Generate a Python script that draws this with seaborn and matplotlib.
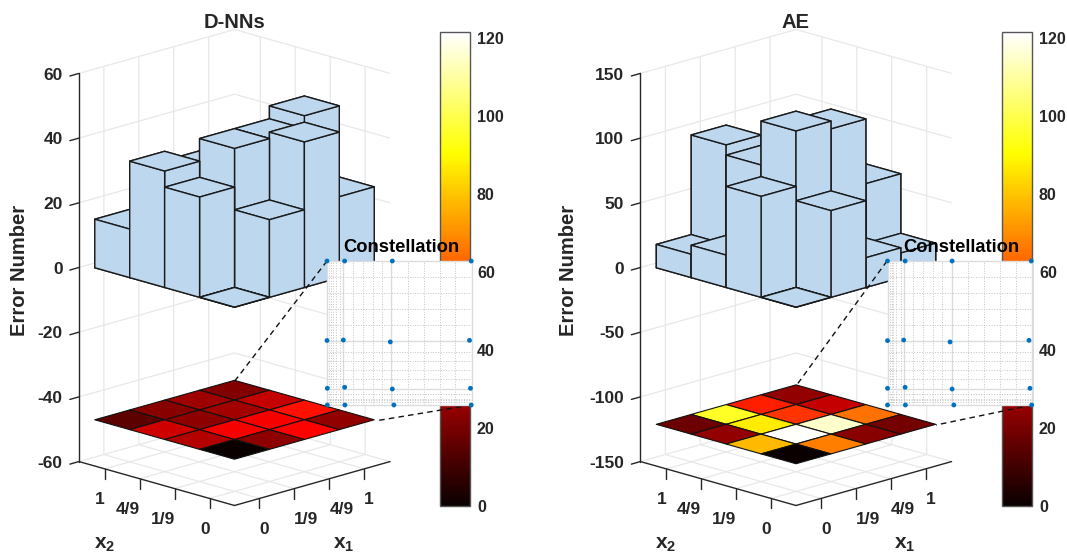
import matplotlib
matplotlib.use("Agg")
import matplotlib.pyplot as plt
from matplotlib.cm import ScalarMappable
from matplotlib.colors import Normalize
from matplotlib.lines import Line2D
from mpl_toolkits.mplot3d import proj3d
import numpy as np
import seaborn as sns

# error counts, rows = x1 index, columns = x2 index
dnn_errors = [[0, 31, 36, 15],
              [24, 43, 24, 23],
              [45, 43, 28, 27],
              [25, 47, 34, 22]]
ae_errors = [[0, 78, 25, 18],
             [67, 121, 87, 95],
             [23, 115, 54, 50],
             [19, 65, 34, 25]]
tick_labels = ["0", "1/9", "4/9", "1"]
dnn_zticks = [-60, -40, -20, 0, 20, 40, 60]
ae_zticks = [-150, -100, -50, 0, 50, 100, 150]
cbar_ticks = [0, 20, 40, 60, 80, 100, 120]

# constellation points
dnn_const_x = [0, .122, .452, .998, 0, .113, .438, .986, .002, .122, .452, .993, .002, .124, .463, .998]
dnn_const_y = [1, 1, 1, 1, .448, .451, .438, .449, .116, .123, .111, .116, 0, 0, 0, 0]
ae_const_x = [0, .122, .447, .995, 0, .112, .433, .979, 0, .122, .447, .986, 0, .124, .459, .998]
ae_const_y = [1, 1, 1, 1, .447, .451, .438, .449, .116, .123, .111, .116, 0, 0, 0, 0]
grid_major = [1 / 9, 4 / 9]
grid_minor_x = [.014, .028, .041, .06, .09, .177, .247, .318, .378, .558, .668, .779, .889]
grid_minor_y = [.019, .032, .044, .079, .183, .241, .306, .37, .556, .667, .778, .889]

sns.set_theme(style="white")
plt.rcParams["font.family"] = ["Liberation Sans", "DejaVu Sans"]
plt.rcParams["font.weight"] = "bold"
plt.rcParams["mathtext.fontset"] = "custom"
plt.rcParams["mathtext.bf"] = "Liberation Sans:bold"

W, H = 1067, 556
DARK = "#262626"
BAR = "#BDD7EE"
hot = sns.color_palette("hot", as_cmap=True)
norm = Normalize(0, 121.5)

fig = plt.figure(figsize=(W / 100, H / 100), dpi=100)


def fx(px):
    return px / W


def fy(py):
    return 1 - py / H


def panel(cx, errors, zticks, heat_z, title, const_x, const_y, cb_left, inset_left, ylabel_x, links):
    S = 500
    ax = fig.add_axes([fx(cx - .5135 * S), fy(281 + .4865 * S), S / W, S / H], projection="3d", proj_type="ortho")
    ax.computed_zorder = False
    ax.patch.set_alpha(0)
    ax.view_init(elev=16.4, azim=-135)
    ax.set_box_aspect((.814, .814, 1.497), zoom=.991)

    lo, hi = .286, 4.74
    zmin, zmax = zticks[0], zticks[-1]
    zpx = 387 / (zmax - zmin)
    ax.set_xlim(lo, hi)
    ax.set_ylim(lo, hi)
    ax.set_zlim(zmin, zmax)
    ax.set_xticks([1, 2, 3, 4])
    ax.set_yticks([1, 2, 3, 4])
    ax.set_zticks(zticks)
    ax.set_xticklabels([])
    ax.set_yticklabels([])
    ax.set_zticklabels([])
    for axis in (ax.xaxis, ax.yaxis, ax.zaxis):
        axis.set_pane_color((1, 1, 1, 0))
        axis.pane.set_edgecolor((1, 1, 1, 0))
        axis.line.set_color((1, 1, 1, 0))
        axis._axinfo["grid"].update(color="#e8e8e8", linewidth=.9)
        axis._axinfo["tick"].update(inward_factor=0, outward_factor=0)

    # bars, back to front
    values = np.array(errors, dtype=float)
    for i in range(3, -1, -1):
        for j in range(3, -1, -1):
            ax.bar3d(i + .5, j + .5, 0, 1, 1, values[i, j], color=BAR, shade=False,
                     edgecolor="#1a1a1a", linewidth=1, zorder=20 - i - j)

    # heat map on the plane below
    edges = np.arange(.5, 5)
    X, Y = np.meshgrid(edges, edges, indexing="ij")
    ax.plot_surface(X, Y, np.full_like(X, heat_z), facecolors=hot(norm(values)), shade=False,
                    rstride=1, cstride=1, edgecolor="#111111", linewidth=.8, zorder=2)

    M = ax.get_proj()

    def label(x, y, z, s, ha):
        x2, y2, _ = proj3d.proj_transform(x, y, z, M)
        ax.text2D(x2, y2, s, transform=ax.transData, ha=ha, va="center", fontsize=12.5,
                  color=DARK, fontweight="bold")

    # hand drawn axes so that ticks hang down as in the original
    tick_dz = 10 / zpx
    lw = 1
    ax.plot([lo, hi], [lo, lo], [zmin, zmin], color=DARK, lw=lw, zorder=3)
    ax.plot([lo, lo], [lo, hi], [zmin, zmin], color=DARK, lw=lw, zorder=3)
    ax.plot([lo, lo], [hi, hi], [zmin, zmax], color=DARK, lw=lw, zorder=3)
    for k, lab in enumerate(tick_labels):
        t = k + 1
        ax.plot([t, t], [lo, lo], [zmin, zmin - tick_dz], color=DARK, lw=lw, zorder=3)
        ax.plot([lo, lo], [t, t], [zmin, zmin - tick_dz], color=DARK, lw=lw, zorder=3)
        label(t, lo, zmin - 31 / zpx, lab, "left")
        label(lo, t, zmin - 31 / zpx, lab, "right")
    for z in zticks:
        ax.plot([lo, lo - .26], [hi, hi], [z, z], color=DARK, lw=lw, zorder=3)
        label(lo - .47, hi, z + 3 / zpx, str(z), "right")

    fig.text(fx(cx), fy(22), title, ha="center", va="center", fontsize=14.5, color=DARK, fontweight="bold")
    fig.text(fx(ylabel_x), fy(270), "Error Number", rotation=90, ha="center", va="center",
             fontsize=14.5, color=DARK, fontweight="bold")
    fig.text(fx(cx - 130), fy(545), r"$\mathbf{x_2}$", ha="center", va="center", fontsize=15, color=DARK)
    fig.text(fx(cx + 109), fy(545), r"$\mathbf{x_1}$", ha="center", va="center", fontsize=15, color=DARK)

    # colour bar
    cax = fig.add_axes([fx(cb_left), fy(506), 30 / W, 474 / H])
    cb = fig.colorbar(ScalarMappable(norm=norm, cmap=hot), cax=cax)
    cb.set_ticks(cbar_ticks)
    cax.tick_params(direction="in", length=4, width=.8, color=DARK, labelcolor=DARK, labelsize=11.5, pad=5, right=True)
    cb.outline.set_edgecolor("#555555")
    cb.outline.set_linewidth(1)

    # constellation inset
    iax = fig.add_axes([fx(inset_left), fy(405), 144.5 / W, 144 / H], zorder=5)
    iax.set_xlim(0, 1)
    iax.set_ylim(0, 1)
    iax.set_xticks(grid_major)
    iax.set_yticks(grid_major)
    iax.set_xticks(grid_minor_x, minor=True)
    iax.set_yticks(grid_minor_y, minor=True)
    iax.grid(True, which="major", color="#dcdcdc", lw=1)
    iax.grid(True, which="minor", color="#c4c4c4", lw=.7, ls=":")
    iax.tick_params(which="both", length=0, labelbottom=False, labelleft=False)
    iax.set_axisbelow(True)
    for sp in iax.spines.values():
        sp.set_color("#dcdcdc")
        sp.set_linewidth(1)
    sns.scatterplot(x=const_x, y=const_y, ax=iax, color="#0072BD", s=12, edgecolor="none", clip_on=False, zorder=6)
    fig.text(fx(inset_left + 74), fy(247), "Constellation", ha="center", va="center", fontsize=13.2,
             color="black", fontweight="bold", zorder=6)

    for (x0, y0), (x1, y1) in links:
        fig.add_artist(Line2D([fx(x0), fx(x1)], [fy(y0), fy(y1)], color="#111111", lw=1, ls=(0, (4, 3)), zorder=4))


panel(234.5, dnn_errors, dnn_zticks, -47, "D-NNs", dnn_const_x, dnn_const_y, 440, 327, 19.5,
      [((327, 261), (234, 382)), ((471, 405), (375, 421))])
panel(796, ae_errors, ae_zticks, -121, "AE", ae_const_x, ae_const_y, 1002, 887.5, 569,
      [((887, 261), (796, 386)), ((1032, 405), (936, 425))])

fig.savefig("out.png", dpi=100)
